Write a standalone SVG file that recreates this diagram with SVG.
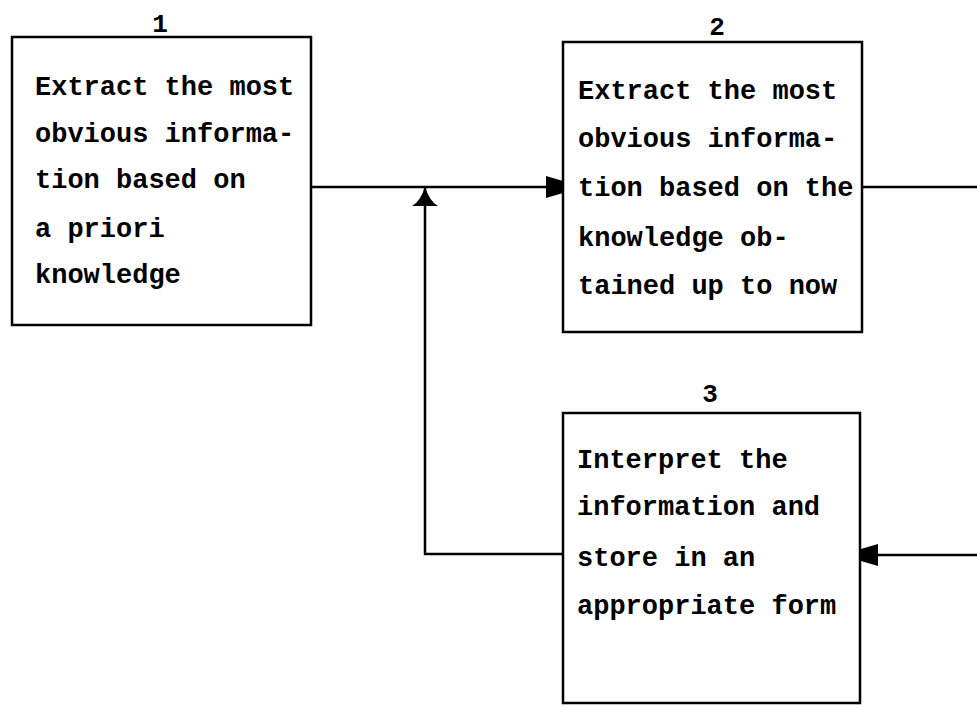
<svg xmlns="http://www.w3.org/2000/svg" width="977" height="708" viewBox="0 0 977 708">
<defs>
<style>
.box{fill:#fff;stroke:#000;stroke-width:2.5}
.t{font-family:"Liberation Mono","Courier New",monospace;font-weight:bold;font-size:27px;fill:#000}
.n{font-family:"Liberation Mono","Courier New",monospace;font-weight:bold;font-size:26px;fill:#000;text-anchor:middle}
.c{fill:none;stroke:#000;stroke-width:2.5}
</style>
<marker id="ah" markerUnits="userSpaceOnUse" markerWidth="20" markerHeight="28" refX="17" refY="12" orient="auto">
<path d="M0,1 L17,6 L17,18 L0,23 Z" fill="#000"/>
</marker>
<marker id="au" markerUnits="userSpaceOnUse" markerWidth="22" markerHeight="28" refX="19" refY="13" orient="auto">
<path d="M0,0 Q4,8 19,13 Q4,18 0,26 Z" fill="#000"/>
</marker>
</defs>
<rect width="977" height="708" fill="#fff"/>
<g id="connectors">
<line class="c" x1="311" y1="187" x2="563" y2="187" marker-end="url(#ah)"/>
<line class="c" x1="862" y1="187" x2="977" y2="187"/>
<line class="c" x1="977" y1="555" x2="861" y2="555" marker-end="url(#ah)"/>
<polyline class="c" points="563,554 425,554 425,187" marker-end="url(#au)"/>
</g>
<g id="node1">
<rect class="box" x="12" y="37" width="299" height="288"/>
<text class="n" x="160" y="32">1</text>
<text class="t" x="35" y="95">Extract the most</text>
<text class="t" x="35" y="142">obvious informa-</text>
<text class="t" x="35" y="188">tion based on</text>
<text class="t" x="35" y="237">a priori</text>
<text class="t" x="35" y="283">knowledge</text>
</g>
<g id="node2">
<rect class="box" x="563" y="42" width="299" height="290"/>
<text class="n" x="717" y="35">2</text>
<text class="t" x="578" y="99">Extract the most</text>
<text class="t" x="578" y="147">obvious informa-</text>
<text class="t" x="578" y="196">tion based on the</text>
<text class="t" x="578" y="246">knowledge ob-</text>
<text class="t" x="578" y="294">tained up to now</text>
</g>
<g id="node3">
<rect class="box" x="563" y="413" width="297" height="290"/>
<text class="n" x="710" y="402">3</text>
<text class="t" x="577" y="468">Interpret the</text>
<text class="t" x="577" y="515">information and</text>
<text class="t" x="577" y="566">store in an</text>
<text class="t" x="577" y="614">appropriate form</text>
</g>
</svg>
